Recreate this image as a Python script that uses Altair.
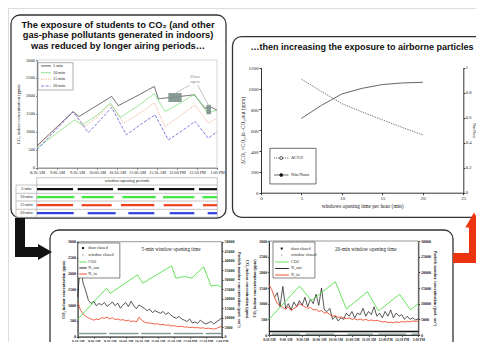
import json
import altair as alt
import pandas as pd

W, H = 468, 334

# ================= DATA =================
time_labels = ["8:30 AM", "9:00 AM", "9:30 AM", "10:00 AM", "10:30 AM",
               "11:00 AM", "11:30 AM", "12:00 PM", "12:30 PM", "1:00 PM"]

# --- top-left: CO2 (ppm) vs minutes after 8:30 AM ---
tl_names = ["5 min", "10 min", "15 min", "20 min"]
tl_t_5 = [0, 54, 63, 112, 122, 150, 176, 182, 200, 236, 252, 262, 270]
tl_v_5 = [610, 1560, 1425, 1985, 1730, 2000, 2265, 1920, 1955, 2030, 1660, 1680, 1600]
tl_t_10 = [0, 56, 68, 90, 110, 125, 150, 176, 192, 215, 236, 256, 270]
tl_v_10 = [550, 1330, 1190, 1460, 1800, 1400, 1700, 2060, 1565, 1800, 2050, 1520, 1610]
tl_t_15 = [0, 54, 72, 90, 110, 130, 155, 176, 192, 215, 237, 257, 270]
tl_v_15 = [580, 1550, 1145, 1410, 1770, 1240, 1530, 1800, 1145, 1450, 1745, 1240, 1385]
tl_t_20 = [0, 54, 77, 95, 112, 134, 155, 177, 197, 218, 237, 257, 270]
tl_v_20 = [500, 1560, 980, 1330, 1680, 915, 1200, 1475, 775, 1030, 1290, 820, 1005]

door_t0 = [197, 254]
door_t1 = [217, 261]
door_v0 = [1830, 1490]
door_v1 = [2080, 1750]

# window-closed periods (minutes) for the table
table_rows = ["5-min", "10-min", "15-min", "20-min"]
win_5 = [(0, 54), (61, 114), (121, 176), (183, 236), (243, 270)]
win_10 = [(0, 56), (67, 115), (128, 178), (189, 236), (248, 270)]
win_15 = [(0, 54), (67, 112), (126, 176), (190, 233), (249, 270)]
win_20 = [(0, 55), (76, 118), (137, 176), (199, 236), (256, 270)]

# --- top-right ---
tr_x = [5, 7.5, 10, 12.5, 15, 17.5, 20]
tr_dco2 = [1090, 970, 855, 775, 700, 625, 555]
tr_ratio = [0.595, 0.70, 0.79, 0.835, 0.865, 0.878, 0.883]

# --- bottom-left (5-min) ---
bl_co2_t = [0, 54, 61, 112, 122, 176, 184, 200, 214, 236, 250, 262, 270]
bl_co2_v = [550, 1530, 1370, 1950, 1690, 2240, 1850, 1900, 1850, 2210, 1600, 1630, 1560]
bl_t = list(range(0, 271, 5))
bl_nout = [20800, 39200, 28300, 24200, 19200, 17500, 18700, 16300, 17500, 16700, 18000,
           16000, 17000, 18300, 16300, 17700, 15000, 16700, 18000, 15800, 18700, 16300,
           14700, 16700, 15800, 15000, 13700, 14500, 12700, 13700, 13000, 12300, 13300,
           11700, 12700, 11300, 10300, 9700, 10700, 9300, 8700, 8000, 9300, 7200, 7800,
           7000, 8700, 7500, 6700, 7300, 8000, 6700, 7700, 8700, 10000]
bl_nin = [18300, 14200, 12000, 10700, 10000, 9300, 8700, 9300, 9000, 10000, 9700, 10300,
          9300, 10000, 9000, 9300, 8700, 9000, 8300, 8700, 8000, 8300, 7700, 10300, 8700,
          7700, 7300, 7200, 7000, 6700, 6800, 6300, 6500, 6000, 6200, 5700, 5800, 5500,
          5300, 5500, 5000, 5200, 4800, 5000, 4700, 4800, 4500, 4700, 4300, 4500, 4200,
          4000, 4300, 5000, 5500]
bl_closed = [(0, 54), (59, 114), (119, 175), (180, 235), (240, 270)]

# --- bottom-right (20-min) ---
br_co2_t = [0, 55, 77, 120, 140, 178, 198, 236, 256, 270]
br_co2_v = [500, 1560, 1100, 1700, 830, 1380, 770, 1300, 800, 1000]
br_t_out = list(range(10, 271, 5))
br_nout = [12000, 13500, 9000, 15500, 8500, 10000, 8000, 10500, 9000, 11000, 9500, 12000,
           9000, 11500, 10000, 13000, 9500, 15000, 8000, 7500, 8500, 5000, 6000, 4500,
           5500, 5000, 7000, 6000, 7500, 5500, 7000, 6500, 8500, 6000, 7500, 6500, 9000,
           6000, 7000, 5500, 7500, 6000, 8000, 5500, 7000, 6000, 6500, 5000, 6000, 5000,
           5500, 4800, 5200]
br_t_in = list(range(0, 271, 5))
br_nin = [16000, 14500, 12000, 10000, 9500, 8800, 8200, 9000, 7800, 8500, 9000, 10000,
          9500, 9000, 8500, 8800, 8000, 8200, 7500, 7800, 7000, 7200, 6500, 6000, 6200,
          5600, 5800, 5400, 5200, 5500, 5000, 5200, 4800, 5100, 4700, 5000, 4600, 4800,
          4500, 4700, 4400, 4200, 4300, 4000, 4100, 3900, 4200, 4000, 4300, 4100, 4400,
          4200, 4500, 4300, 4500]
br_closed = [(5, 56), (66, 118), (142, 188), (198, 248), (258, 270)]

# ================= HELPERS =================
LBL = "%s[round(datum.value/30)]" % json.dumps(time_labels)


def ax(**kw):
    base = dict(labelFont="Liberation Serif", labelFontSize=4.5, labelColor="#222",
                tickSize=1.5, tickColor="#666", domainColor="#666", labelPadding=1,
                grid=False, labelFlush=False, labelOverlap=False,
                titleFont="Liberation Serif", titleFontSize=4.6,
                titleFontWeight="normal", titleColor="#222")
    base.update(kw)
    return alt.Axis(**base)


def qx(field, dom, rng, axis=None):
    return alt.X(field, type="quantitative",
                 scale=alt.Scale(domain=dom, range=rng, nice=False, zero=False), axis=axis)


def qy(field, dom, rng, axis=None):
    return alt.Y(field, type="quantitative",
                 scale=alt.Scale(domain=dom, range=rng, nice=False, zero=False), axis=axis)


one = pd.DataFrame({"k": [0]})


def vtext(txt, x, y, size=5, weight="normal", font="Liberation Serif", color="#222",
          align="center", angle=0):
    return alt.Chart(one).mark_text(text=txt, fontSize=size, fontWeight=weight, font=font,
                                    color=color, align=align, baseline="middle",
                                    angle=angle).encode(x=alt.value(x), y=alt.value(y))


def vrule(x1, y1, x2, y2, color="#999", sw=0.7):
    return alt.Chart(one).mark_rule(color=color, strokeWidth=sw).encode(
        x=alt.value(x1), y=alt.value(y1), x2=alt.value(x2), y2=alt.value(y2))


def vbox(x1, x2, y1, y2, color="#333", sw=1.3, r=9):
    return alt.Chart(one).mark_rect(fillOpacity=0, stroke=color, strokeWidth=sw,
                                    cornerRadius=r).encode(
        x=alt.value(x1), x2=alt.value(x2), y=alt.value(y1), y2=alt.value(y2))


layers = []

# ================= PANEL BOXES & ARROWS =================
layers.append(vbox(3, 218, 7, 210))
layers.append(vbox(224.5, 520, 28.7, 209.3))
layers.append(vbox(42, 445, 222, 380))
# black arrow
layers.append(vrule(12, 210, 12, 248, color="#111", sw=10))
layers.append(vrule(7, 244, 33, 244, color="#111", sw=10))
layers.append(alt.Chart(one).mark_point(shape="triangle-right", filled=True, color="#111",
                                        size=260, opacity=1).encode(x=alt.value(37), y=alt.value(244)))
# red arrow
layers.append(vrule(445, 250, 466, 250, color="#ee3311", sw=10))
layers.append(vrule(466, 255, 466, 218, color="#ee3311", sw=10))
layers.append(alt.Chart(one).mark_point(shape="triangle-up", filled=True, color="#ee3311",
                                        size=300, opacity=1).encode(x=alt.value(466), y=alt.value(212)))

# ================= TOP-LEFT =================
TLX = ([0, 270], [29, 209])
TLY = ([0, 3000], [159.7, 52])
TFONT = "Liberation Sans"
TSIZE = 9.3
layers.append(vtext("The exposure of students to CO₂ (and other", 110, 16.5, TSIZE, "bold", TFONT, "#111"))
layers.append(vtext("gas-phase pollutants generated in indoors)", 110, 26.6, TSIZE, "bold", TFONT, "#111"))
layers.append(vtext("was reduced by longer airing periods…", 110, 38, TSIZE, "bold", TFONT, "#111"))

frame = pd.DataFrame({"t0": [0], "t1": [270], "v0": [0], "v1": [3000]})
layers.append(alt.Chart(frame).mark_rect(fillOpacity=0, stroke="#c4c4c4", strokeWidth=0.7).encode(
    x=qx("t0", *TLX, axis=ax(orient="bottom", offset=159.7 - H, values=list(range(0, 271, 30)),
                             labelExpr=LBL, title=None, labelFontSize=4.2)),
    x2="t1",
    y=qy("v0", *TLY, axis=ax(orient="left", offset=-29, values=list(range(0, 3001, 500)),
                             format="d", title="CO₂ indoor concentration (ppm)", titlePadding=5)),
    y2="v1"))

tl_df = pd.concat([
    pd.DataFrame({"t": tl_t_5, "v": tl_v_5, "s": "5 min"}),
    pd.DataFrame({"t": tl_t_10, "v": tl_v_10, "s": "10 min"}),
    pd.DataFrame({"t": tl_t_15, "v": tl_v_15, "s": "15 min"}),
    pd.DataFrame({"t": tl_t_20, "v": tl_v_20, "s": "20 min"}),
])
tl_colors = ["#3a3a3a", "#72e072", "#ee8866", "#5c5cd6"]
tl_dash = [[1, 0], [1, 0], [1, 1.3], [3, 1.6]]
tl_color = alt.Color("s:N", scale=alt.Scale(domain=tl_names, range=tl_colors), legend=None)
tl_sdash = alt.StrokeDash("s:N", scale=alt.Scale(domain=tl_names, range=tl_dash), legend=None)
layers.append(alt.Chart(tl_df).mark_line(strokeWidth=0.8).encode(
    x=qx("t", *TLX), y=qy("v", *TLY), color=tl_color, strokeDash=tl_sdash))

door_df = pd.DataFrame({"t0": door_t0, "t1": door_t1, "v0": door_v0, "v1": door_v1})
layers.append(alt.Chart(door_df).mark_rect(color="#7d918b", opacity=0.9).encode(
    x=qx("t0", *TLX), x2="t1", y=qy("v0", *TLY), y2="v1"))
lead_df = pd.DataFrame({"t0": [229, 241], "t1": [208, 257], "v0": [2300, 2300], "v1": [2080, 1750]})
layers.append(alt.Chart(lead_df).mark_rule(color="#9a9a9a", strokeWidth=0.6).encode(
    x=qx("t0", *TLX), x2="t1", y=qy("v0", *TLY), y2="v1"))
door_lbl = pd.DataFrame({"t": [237, 237], "v": [2530, 2390], "txt": ["Door", "open"]})
layers.append(alt.Chart(door_lbl).mark_text(font="Liberation Serif", fontSize=4.6, color="#888").encode(
    x=qx("t", *TLX), y=qy("v", *TLY), text="txt:N"))

# legend inside top-left chart (in data units)
tl_leg_box = pd.DataFrame({"t0": [1.5], "t1": [54], "v0": [2165], "v1": [2925]})
layers.append(alt.Chart(tl_leg_box).mark_rect(fillOpacity=1, fill="white", stroke="#777", strokeWidth=0.6).encode(
    x=qx("t0", *TLX), x2="t1", y=qy("v0", *TLY), y2="v1"))
tl_leg = pd.DataFrame({"s": tl_names, "t0": [6] * 4, "t1": [21] * 4, "tt": [24] * 4,
                       "v": [2835, 2645, 2465, 2275]})
layers.append(alt.Chart(tl_leg).mark_rule(strokeWidth=0.8).encode(
    x=qx("t0", *TLX), x2="t1", y=qy("v", *TLY), color=tl_color, strokeDash=tl_sdash))
layers.append(alt.Chart(tl_leg).mark_text(font="Liberation Serif", fontSize=4.3, align="left", color="#222").encode(
    x=qx("tt", *TLX), y=qy("v", *TLY), text="s:N"))

# window opening periods table
layers.append(vrule(28.7, 169.7, 209.3, 169.7, "#aaa"))
for yy in [177, 185.3, 193, 201.3, 209.3]:
    layers.append(vrule(8, yy, 209.3, yy, "#aaa"))
layers.append(vrule(8, 177, 8, 209.3, "#aaa"))
layers.append(vrule(28.7, 169.7, 28.7, 209.3, "#aaa"))
layers.append(vrule(209.3, 169.7, 209.3, 209.3, "#aaa"))
layers.append(vtext("window opening periods", 119, 173.4, 4.5))
win_rows = []
for i, w in enumerate([win_5, win_10, win_15, win_20]):
    for a, b in w:
        win_rows.append({"r": i, "s": table_rows[i], "t0": a, "t1": b})
win_df = pd.DataFrame(win_rows)
ROWY = ([0, 3], [181.2, 205.2])
layers.append(alt.Chart(win_df).mark_rule(strokeWidth=2.2).encode(
    x=qx("t0", *TLX), x2="t1", y=qy("r", *ROWY),
    color=alt.Color("s:N", scale=alt.Scale(domain=table_rows,
                                           range=["#111111", "#3fe83f", "#f0401e", "#2f3fe0"]), legend=None)))
row_lbl = pd.DataFrame({"r": [0, 1, 2, 3], "s": table_rows})
layers.append(alt.Chart(row_lbl).mark_text(font="Liberation Serif", fontSize=4.4, color="#222").encode(
    x=alt.value(18.3), y=qy("r", *ROWY), text="s:N"))

# ================= TOP-RIGHT =================
TRX = ([0, 25], [253, 455.3])
TRYL = ([0, 1200], [184.7, 59.7])
TRYR = ([0, 1], [184.7, 59.7])
layers.append(vtext("…then increasing the exposure to airborne particles", 354, 39.3, 9.0, "bold", TFONT, "#111"))
tr_df = pd.DataFrame({"x": tr_x, "d": tr_dco2, "r": tr_ratio})
TRAX = dict(labelFontSize=5, tickColor="#333", domainColor="#333", titleFontSize=5.4, tickSize=2)
layers.append(alt.Chart(tr_df).mark_line(color="#666", strokeWidth=0.9, strokeDash=[1.4, 1.1]).encode(
    x=qx("x", *TRX, axis=ax(orient="bottom", offset=184.7 - H, values=[0, 5, 10, 15, 20, 25],
                            format="d", title="windows opening time per hour (min)", titlePadding=3, **TRAX)),
    y=qy("d", *TRYL, axis=ax(orient="left", offset=-253, values=list(range(0, 1201, 200)),
                             format="d", title="ΔCO₂ =CO₂,in -CO₂,out (ppm)", titlePadding=3, **TRAX))))
TRAXR = dict(TRAX)
TRAXR.update(labelFontSize=4.6, titleFontSize=4.0, tickSize=1.5)
layers.append(alt.Chart(tr_df).mark_line(color="#555", strokeWidth=0.9).encode(
    x=qx("x", *TRX),
    y=qy("r", *TRYR, axis=ax(orient="right", offset=455.3 - W, values=[0, 0.2, 0.4, 0.6, 0.8, 1],
                             format="~g", title="Nin/Nout", titlePadding=0, labelPadding=0.5, **TRAXR))))
tr_leg_box = pd.DataFrame({"x0": [1.1], "x1": [6.8], "v0": [84], "v1": [426]})
layers.append(alt.Chart(tr_leg_box).mark_rect(fillOpacity=0, stroke="#333", strokeWidth=0.7).encode(
    x=qx("x0", *TRX), x2="x1", y=qy("v0", *TRYL), y2="v1"))
tr_leg = pd.DataFrame({"x0": [1.6, 1.6], "x1": [3.4, 3.4], "xm": [2.5, 2.5], "xt": [3.7, 3.7],
                       "v": [333, 170], "lab": ["ΔCO2", "Nin/Nout"], "k": ["a", "b"]})
layers.append(alt.Chart(tr_leg).mark_rule(color="#444", strokeWidth=0.8).encode(
    x=qx("x0", *TRX), x2="x1", y=qy("v", *TRYL),
    strokeDash=alt.StrokeDash("k:N", scale=alt.Scale(domain=["a", "b"], range=[[1.2, 1], [1, 0]]), legend=None)))
layers.append(alt.Chart(tr_leg).mark_point(size=9, strokeWidth=0.7, opacity=1).encode(
    x=qx("xm", *TRX), y=qy("v", *TRYL),
    fill=alt.Fill("k:N", scale=alt.Scale(domain=["a", "b"], range=["white", "#111"]), legend=None),
    color=alt.value("#111")))
layers.append(alt.Chart(tr_leg).mark_text(font="Liberation Serif", fontSize=4.8, align="left", color="#222").encode(
    x=qx("xt", *TRX), y=qy("v", *TRYL), text="lab:N"))

# ================= BOTTOM CHARTS =================
BAX = dict(labelFontSize=4.0, labelFontWeight="bold", tickColor="#333", domainColor="#333",
           titleFontSize=4.2, titleFontWeight="bold", tickSize=1.3, format="d")
leg_names = ["door closed", "window closed", "CO2", "N_out", "N_in"]


def bottom(X, YL, YR, r_max, r_step, co2_t, co2_v, t_out, nout, t_in, nin, closed, door_line,
           title, leg, yoff_left, xoff, right_title):
    out = []
    fr = pd.DataFrame({"t0": [0], "t1": [270], "v0": [0], "v1": [3000]})
    xax = dict(BAX)
    xax.pop("format")
    xax["labelFontSize"] = 3.4
    out.append(alt.Chart(fr).mark_rect(fillOpacity=0, stroke="#555", strokeWidth=0.6).encode(
        x=qx("t0", *X, axis=ax(orient="bottom", offset=xoff, values=list(range(0, 271, 30)),
                               labelExpr=LBL, title=None, **xax)),
        x2="t1",
        y=qy("v0", *YL, axis=ax(orient="left", offset=yoff_left, values=list(range(0, 3001, 500)),
                                title="CO₂ indoor concentration (ppm)", titlePadding=2, **BAX)),
        y2="v1"))
    # right axis (particles)
    out.append(alt.Chart(pd.DataFrame({"t": [0, 270], "n": [0, r_max]})).mark_point(opacity=0).encode(
        x=qx("t", *X),
        y=qy("n", *YR, axis=ax(orient="right", offset=X[1][1] - W, values=list(range(0, r_max + 1, r_step)),
                               title=right_title, titlePadding=2, **BAX))))
    # closed markers
    cl = pd.DataFrame([{"t0": a, "t1": b, "v": 100} for a, b in closed])
    if door_line:
        out.append(alt.Chart(pd.DataFrame({"t0": [0], "t1": [270], "v": [110]})).mark_rule(
            color="#111", strokeWidth=1.5).encode(x=qx("t0", *X), x2="t1", y=qy("v", *YL)))
        cl["v"] = 25
    out.append(alt.Chart(cl).mark_rule(color="#7f9a95", strokeWidth=1.4).encode(
        x=qx("t0", *X), x2="t1", y=qy("v", *YL)))
    # series
    out.append(alt.Chart(pd.DataFrame({"t": t_out, "n": nout})).mark_line(color="#111", strokeWidth=0.7).encode(
        x=qx("t", *X), y=qy("n", *YR)))
    out.append(alt.Chart(pd.DataFrame({"t": t_in, "n": nin})).mark_line(color="#ee3a1a", strokeWidth=0.8).encode(
        x=qx("t", *X), y=qy("n", *YR)))
    out.append(alt.Chart(pd.DataFrame({"t": co2_t, "v": co2_v})).mark_line(color="#55e04a", strokeWidth=0.9).encode(
        x=qx("t", *X), y=qy("v", *YL)))
    # title
    out.append(alt.Chart(pd.DataFrame({"t": [175], "v": [leg["title_v"]], "s": [title]})).mark_text(
        font="Liberation Serif", fontSize=5.2, color="#222").encode(x=qx("t", *X), y=qy("v", *YL), text="s:N"))
    # legend
    lb = pd.DataFrame({"t0": [leg["x0"]], "t1": [leg["x1"]], "v0": [leg["v0"]], "v1": [leg["v1"]]})
    out.append(alt.Chart(lb).mark_rect(fill="white", fillOpacity=1, stroke="#333", strokeWidth=0.6).encode(
        x=qx("t0", *X), x2="t1", y=qy("v0", *YL), y2="v1"))
    ld = pd.DataFrame({"s": leg_names, "v": leg["vs"]})
    ld["l0"] = leg["l0"]
    ld["l1"] = leg["l1"]
    ld["lm"] = leg["lm"]
    ld["lt"] = leg["lt"]
    lines = ld.iloc[2:]
    marks = ld.iloc[:2]
    out.append(alt.Chart(lines).mark_rule(strokeWidth=0.9).encode(
        x=qx("l0", *X), x2="l1", y=qy("v", *YL),
        color=alt.Color("s:N", scale=alt.Scale(domain=leg_names[2:], range=["#55e04a", "#111", "#ee3a1a"]), legend=None)))
    out.append(alt.Chart(marks).mark_point(filled=True, opacity=1, shape="square").encode(
        x=qx("lm", *X), y=qy("v", *YL),
        color=alt.Color("s:N", scale=alt.Scale(domain=leg_names[:2], range=["#111", "#777"]), legend=None),
        size=alt.Size("s:N", scale=alt.Scale(domain=leg_names[:2], range=[4, 1.5]), legend=None)))
    out.append(alt.Chart(ld).mark_text(font="Liberation Serif", fontSize=4.2, align="left", color="#222").encode(
        x=qx("lt", *X), y=qy("v", *YL), text="s:N"))
    return out


BLX = ([0, 270], [69.7, 213.7])
BLYL = ([0, 3000], [328.7, 233.7])
BLYR = ([0, 50000], [328.7, 233.7])
BRX = ([0, 270], [261, 410.3])
BRYL = ([0, 3000], [327, 233])
BRYR = ([0, 30000], [327, 233])

layers += bottom(BLX, BLYL, BLYR, 50000, 5000, bl_co2_t, bl_co2_v, bl_t, bl_nout, bl_t, bl_nin,
                 bl_closed, False, "5-min window opening time",
                 dict(title_v=2770, x0=0.5, x1=79, v0=1854, v1=2960,
                      vs=[2800, 2580, 2360, 2170, 1980], l0=3, l1=17, lm=10, lt=20),
                 -69.7, 328.7 - H, "Particle number concentration (part. cm⁻³)")
layers += bottom(BRX, BRYL, BRYR, 30000, 5000, br_co2_t, br_co2_v, br_t_out, br_nout, br_t_in, br_nin,
                 br_closed, True, "20-min window opening time",
                 dict(title_v=2745, x0=7.2, x1=83, v0=1819, v1=2968,
                      vs=[2760, 2553, 2330, 2123, 1915], l0=11, l1=36, lm=23, lt=40),
                 -261, 327 - H, "Particle number concentration (part. cm⁻³)")
layers.append(vtext("CO₂ indoor concentration (ppm)", 239, 281, 4.2, "bold", angle=90))

chart = alt.layer(*layers).resolve_scale(
    x="independent", y="independent", color="independent", strokeDash="independent",
    fill="independent", size="independent"
).properties(
    width=W, height=H, padding=0, autosize=alt.AutoSizeParams(type="none")
).configure_view(stroke=None).configure(background="white")

chart.save("out.html", embed_options={"renderer": "svg", "actions": False})
